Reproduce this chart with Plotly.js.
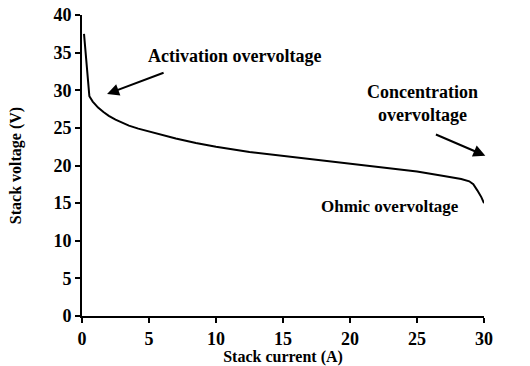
<!DOCTYPE html>
<html><head><meta charset="utf-8">
<script src="https://cdn.plot.ly/plotly-3.0.1.min.js"></script>
</head><body style="margin:0;background:#fff">
<div id="chart" style="width:530px;height:366px"></div>
<script>
const current = [0.15, 0.3, 0.55, 0.8, 1.2, 1.6, 2.0, 2.5, 3.0, 3.5, 4.2, 5, 6, 7, 8.5, 10, 12.5, 15, 17.5, 20, 22.5, 25, 27, 28.3, 28.9, 29.2, 29.5, 29.8, 30];
const voltage = [37.5, 34.5, 29.2, 28.5, 27.7, 27.1, 26.6, 26.1, 25.7, 25.3, 24.9, 24.5, 24.0, 23.6, 23.0, 22.5, 21.8, 21.3, 20.8, 20.3, 19.8, 19.2, 18.6, 18.2, 17.9, 17.5, 16.7, 15.8, 15.0];
const xTicks = [0, 5, 10, 15, 20, 25, 30];
const yTicks = [0, 5, 10, 15, 20, 25, 30, 35, 40];
const labels = ["Activation overvoltage", "Concentration<br>overvoltage", "Ohmic overvoltage"];

const fam = "Liberation Serif";
const tf = {family: fam, size: 18, color: "#000", weight: "bold"};
const af = {family: fam, size: 18, color: "#000"};
Plotly.newPlot("chart", [{
  x: current, y: voltage, type: "scatter", mode: "lines",
  line: {color: "#000", width: 2}, hoverinfo: "skip"
}], {
  width: 530, height: 366,
  margin: {l: 82, r: 46, t: 15, b: 50},
  paper_bgcolor: "#fff", plot_bgcolor: "#fff",
  showlegend: false,
  font: {family: fam, color: "#000"},
  xaxis: {
    range: [0, 30], tickvals: xTicks, ticktext: xTicks.map(String),
    showgrid: false, zeroline: false, showline: true, linecolor: "#000", linewidth: 2,
    ticks: "outside", ticklen: 5, tickwidth: 2, tickcolor: "#000",
    tickfont: tf,
    title: {text: "<b>Stack current (A)</b>", font: {family: fam, size: 16, color: "#000"}, standoff: 1}
  },
  yaxis: {
    range: [0, 40], tickvals: yTicks, ticktext: yTicks.map(String),
    showgrid: false, zeroline: false, showline: true, linecolor: "#000", linewidth: 2,
    ticks: "outside", ticklen: 5, tickwidth: 2, tickcolor: "#000",
    tickfont: tf,
    title: {text: "<b>Stack voltage (V)</b>", font: {family: fam, size: 16, color: "#000"}, standoff: 28}
  },
  annotations: [
    {x: 11.4, y: 34.6, xref: "x", yref: "y", text: "<b>" + labels[0] + "</b>", showarrow: false, font: af},
    {x: 25.4, y: 28.3, xref: "x", yref: "y", text: "<b>" + labels[1] + "</b>", showarrow: false, font: af},
    {x: 23.0, y: 14.6, xref: "x", yref: "y", text: "<b>" + labels[2] + "</b>", showarrow: false, font: {family: fam, size: 17, color: "#000"}},
    {x: 1.87, y: 29.5, xref: "x", yref: "y", ax: 6.2, ay: 32.4, axref: "x", ayref: "y",
     text: "", showarrow: true, arrowhead: 2, arrowsize: 1.2, arrowwidth: 2, arrowcolor: "#000"},
    {x: 30.1, y: 21.3, xref: "x", yref: "y", ax: 26.3, ay: 24.2, axref: "x", ayref: "y",
     text: "", showarrow: true, arrowhead: 2, arrowsize: 1.2, arrowwidth: 2, arrowcolor: "#000"}
  ]
}, {displayModeBar: false, staticPlot: true});
</script>
</body></html>
